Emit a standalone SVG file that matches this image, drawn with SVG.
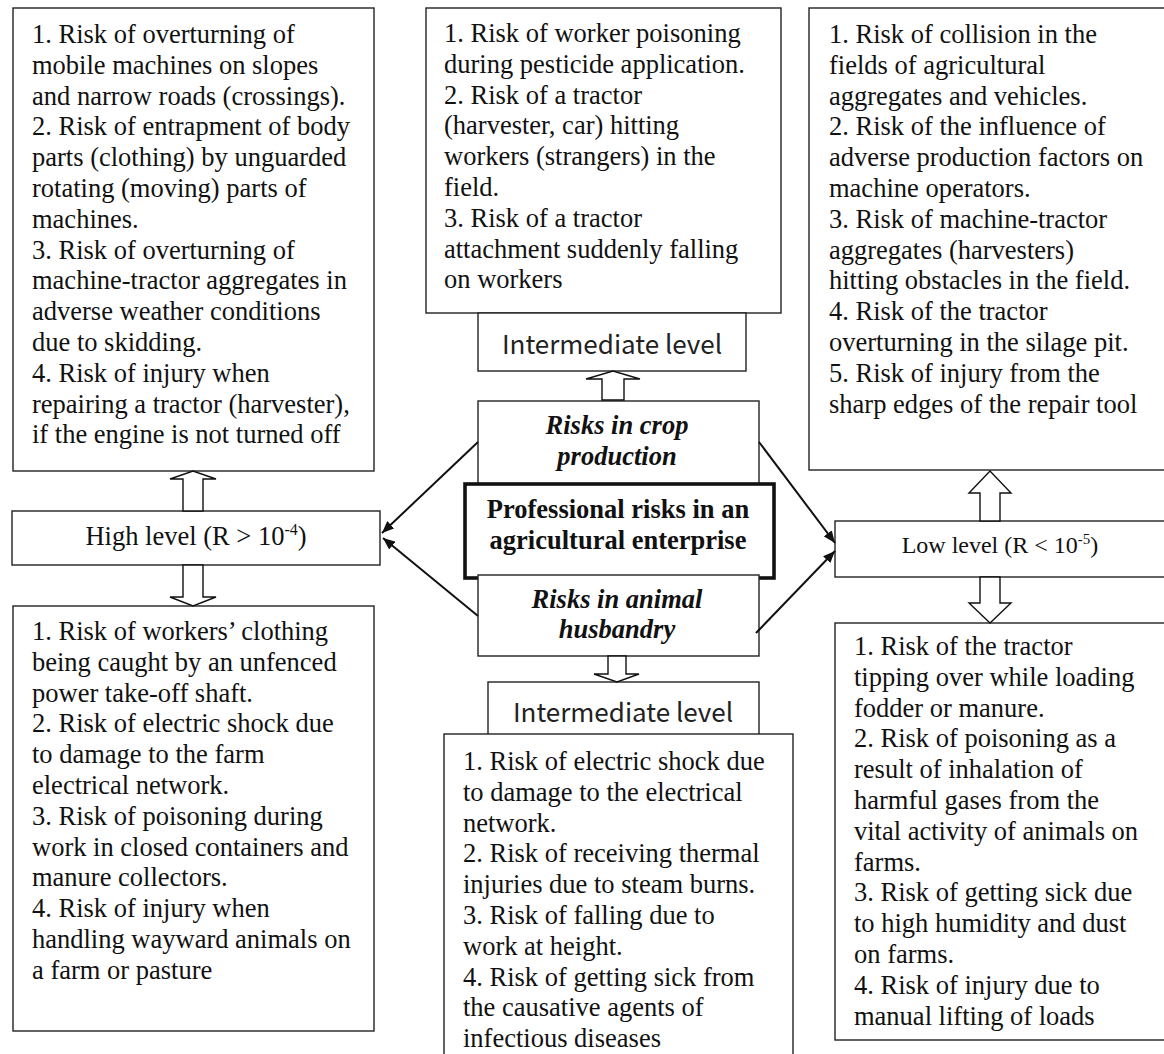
<svg xmlns="http://www.w3.org/2000/svg" width="1164" height="1054" viewBox="0 0 1164 1054">
<defs>
<style>
.box{fill:#fff;stroke:#222;stroke-width:1.4}
.main{fill:#fff;stroke:#111;stroke-width:3.6}
.t{font-family:"Liberation Serif","Times New Roman",serif;font-size:26.5px;fill:#111}
.lvl{font-family:"Liberation Serif","Times New Roman",serif;fill:#111;text-anchor:middle}
.mid{font-family:"Noto Sans CJK JP","Noto Sans",sans-serif;font-size:26px;fill:#222;text-anchor:middle}
.c{font-family:"Liberation Serif","Times New Roman",serif;font-size:26.5px;fill:#111;text-anchor:middle;font-weight:bold}
.bi{font-style:italic}
.blk{fill:#fff;stroke:#111;stroke-width:1.4;stroke-linejoin:miter}
.conn{stroke:#111;stroke-width:2;fill:none}
</style>
<marker id="ah" viewBox="0 0 12 10" refX="12" refY="5" markerWidth="12" markerHeight="10" markerUnits="userSpaceOnUse" orient="auto">
<path d="M0,0 L12,5 L0,10 z" fill="#111"/>
</marker>
</defs>

<g id="high-upper">
<rect class="box" x="13" y="8" width="361" height="463"/>
<text class="t">
<tspan x="32" y="43">1. Risk of overturning of</tspan>
<tspan x="32" y="73.8">mobile machines on slopes</tspan>
<tspan x="32" y="104.6">and narrow roads (crossings).</tspan>
<tspan x="32" y="135.4">2. Risk of entrapment of body</tspan>
<tspan x="32" y="166.2">parts (clothing) by unguarded</tspan>
<tspan x="32" y="197">rotating (moving) parts of</tspan>
<tspan x="32" y="227.8">machines.</tspan>
<tspan x="32" y="258.6">3. Risk of overturning of</tspan>
<tspan x="32" y="289.4">machine-tractor aggregates in</tspan>
<tspan x="32" y="320.2">adverse weather conditions</tspan>
<tspan x="32" y="351">due to skidding.</tspan>
<tspan x="32" y="381.8">4. Risk of injury when</tspan>
<tspan x="32" y="412.6">repairing a tractor (harvester),</tspan>
<tspan x="32" y="443.4">if the engine is not turned off</tspan>
</text>
</g>

<g id="inter-upper">
<rect class="box" x="426" y="8" width="355" height="305"/>
<text class="t">
<tspan x="444" y="42">1. Risk of worker poisoning</tspan>
<tspan x="444" y="72.8">during pesticide application.</tspan>
<tspan x="444" y="103.6">2. Risk of a tractor</tspan>
<tspan x="444" y="134.4">(harvester, car) hitting</tspan>
<tspan x="444" y="165.2">workers (strangers) in the</tspan>
<tspan x="444" y="196">field.</tspan>
<tspan x="444" y="226.8">3. Risk of a tractor</tspan>
<tspan x="444" y="257.6">attachment suddenly falling</tspan>
<tspan x="444" y="288.4">on workers</tspan>
</text>
</g>

<g id="low-upper">
<rect class="box" x="809" y="8" width="370" height="462"/>
<text class="t">
<tspan x="829" y="43">1. Risk of collision in the</tspan>
<tspan x="829" y="73.8">fields of agricultural</tspan>
<tspan x="829" y="104.6">aggregates and vehicles.</tspan>
<tspan x="829" y="135.4">2. Risk of the influence of</tspan>
<tspan x="829" y="166.2">adverse production factors on</tspan>
<tspan x="829" y="197">machine operators.</tspan>
<tspan x="829" y="227.8">3. Risk of machine-tractor</tspan>
<tspan x="829" y="258.6">aggregates (harvesters)</tspan>
<tspan x="829" y="289.4">hitting obstacles in the field.</tspan>
<tspan x="829" y="320.2">4. Risk of the tractor</tspan>
<tspan x="829" y="351">overturning in the silage pit.</tspan>
<tspan x="829" y="381.8">5. Risk of injury from the</tspan>
<tspan x="829" y="412.6">sharp edges of the repair tool</tspan>
</text>
</g>

<g id="inter-level-top">
<rect class="box" x="478" y="313" width="268" height="58"/>
<text class="mid" x="612" y="354">Intermediate level</text>
</g>

<g id="high-level">
<rect class="box" x="12" y="511" width="368" height="54"/>
<text class="lvl" font-size="26.5" x="196" y="545">High level (R &gt; 10<tspan font-size="16" dy="-10">-4</tspan><tspan dy="10">)</tspan></text>
</g>

<g id="low-level">
<rect class="box" x="835" y="521" width="340" height="56"/>
<text class="lvl" font-size="24" x="1000" y="553">Low level (R &lt; 10<tspan font-size="15" dy="-9">-5</tspan><tspan dy="9">)</tspan></text>
</g>

<g id="crop">
<rect class="box" x="478" y="401" width="281" height="83"/>
<text class="c bi" x="617" y="434">Risks in crop</text>
<text class="c bi" x="617" y="465">production</text>
</g>

<g id="professional">
<rect class="main" x="465" y="484" width="309" height="94"/>
<text class="c" x="618" y="518">Professional risks in an</text>
<text class="c" x="618" y="549">agricultural enterprise</text>
</g>

<g id="animal">
<rect class="box" x="478" y="575" width="281" height="81"/>
<text class="c bi" x="617" y="608">Risks in animal</text>
<text class="c bi" x="617" y="638">husbandry</text>
</g>

<g id="inter-level-bottom">
<rect class="box" x="488" y="682" width="271" height="53"/>
<text class="mid" x="623" y="722">Intermediate level</text>
</g>

<g id="high-lower">
<rect class="box" x="13" y="606" width="361" height="425"/>
<text class="t">
<tspan x="32" y="640">1. Risk of workers’ clothing</tspan>
<tspan x="32" y="670.8">being caught by an unfenced</tspan>
<tspan x="32" y="701.6">power take-off shaft.</tspan>
<tspan x="32" y="732.4">2. Risk of electric shock due</tspan>
<tspan x="32" y="763.2">to damage to the farm</tspan>
<tspan x="32" y="794">electrical network.</tspan>
<tspan x="32" y="824.8">3. Risk of poisoning during</tspan>
<tspan x="32" y="855.6">work in closed containers and</tspan>
<tspan x="32" y="886.4">manure collectors.</tspan>
<tspan x="32" y="917.2">4. Risk of injury when</tspan>
<tspan x="32" y="948">handling wayward animals on</tspan>
<tspan x="32" y="978.8">a farm or pasture</tspan>
</text>
</g>

<g id="inter-lower">
<rect class="box" x="444" y="734" width="349" height="340"/>
<text class="t">
<tspan x="463" y="770">1. Risk of electric shock due</tspan>
<tspan x="463" y="800.8">to damage to the electrical</tspan>
<tspan x="463" y="831.6">network.</tspan>
<tspan x="463" y="862.4">2. Risk of receiving thermal</tspan>
<tspan x="463" y="893.2">injuries due to steam burns.</tspan>
<tspan x="463" y="924">3. Risk of falling due to</tspan>
<tspan x="463" y="954.8">work at height.</tspan>
<tspan x="463" y="985.6">4. Risk of getting sick from</tspan>
<tspan x="463" y="1016.4">the causative agents of</tspan>
<tspan x="463" y="1047.2">infectious diseases</tspan>
</text>
</g>

<g id="low-lower">
<rect class="box" x="835" y="623" width="340" height="417"/>
<text class="t">
<tspan x="854" y="655">1. Risk of the tractor</tspan>
<tspan x="854" y="685.8">tipping over while loading</tspan>
<tspan x="854" y="716.6">fodder or manure.</tspan>
<tspan x="854" y="747.4">2. Risk of poisoning as a</tspan>
<tspan x="854" y="778.2">result of inhalation of</tspan>
<tspan x="854" y="809">harmful gases from the</tspan>
<tspan x="854" y="839.8">vital activity of animals on</tspan>
<tspan x="854" y="870.6">farms.</tspan>
<tspan x="854" y="901.4">3. Risk of getting sick due</tspan>
<tspan x="854" y="932.2">to high humidity and dust</tspan>
<tspan x="854" y="963">on farms.</tspan>
<tspan x="854" y="993.8">4. Risk of injury due to</tspan>
<tspan x="854" y="1024.6">manual lifting of loads</tspan>
</text>
</g>

<g id="connectors">
<polygon class="blk" points="602,400 602,379 586,379 613,371 640,379 624,379 624,400"/>
<polygon class="blk" points="183,511 183,479 170,479 193,471 216,479 203,479 203,511"/>
<polygon class="blk" points="183,565 183,597 170,597 193,606 216,597 203,597 203,565"/>
<polygon class="blk" points="608,656 608,674 594,674 617,682 639,674 626,674 626,656"/>
<polygon class="blk" points="980,521 980,493 969,493 990,471 1011,493 1000,493 1000,521"/>
<polygon class="blk" points="980,577 980,603 969,603 990,623 1011,603 1000,603 1000,577"/>
<line class="conn" x1="478" y1="442" x2="382" y2="533" marker-end="url(#ah)"/>
<line class="conn" x1="478" y1="616" x2="383" y2="538" marker-end="url(#ah)"/>
<line class="conn" x1="759" y1="442" x2="835" y2="543" marker-end="url(#ah)"/>
<line class="conn" x1="756" y1="633" x2="835" y2="551" marker-end="url(#ah)"/>
</g>
</svg>
